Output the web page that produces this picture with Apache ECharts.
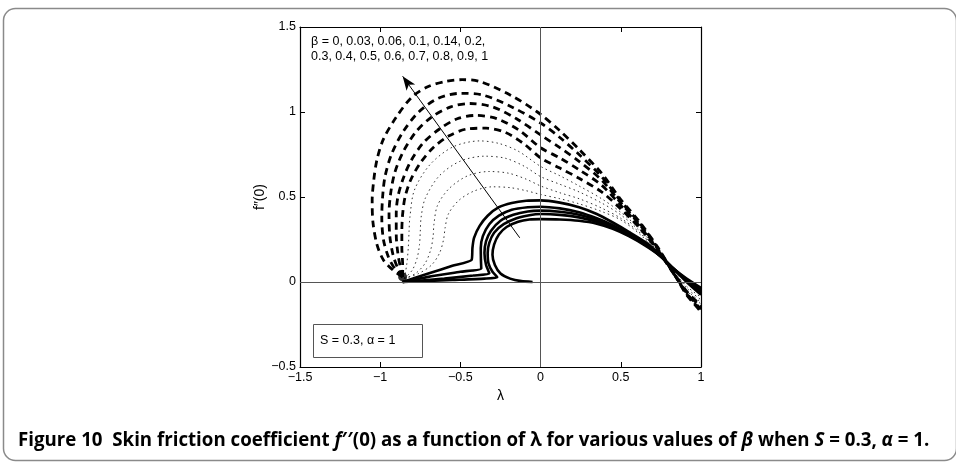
<!DOCTYPE html>
<html><head><meta charset="utf-8">
<script src="https://cdn.jsdelivr.net/npm/echarts@6/dist/echarts.min.js"></script>
<style>html,body{margin:0;padding:0;background:#fff;}#c{width:956px;height:469px;}</style>
</head><body><div id="c"></div>
<script>
// x ticks / y ticks
const xTicks = [-1.5, -1, -0.5, 0, 0.5, 1];
const yTicks = [-0.5, 0, 0.5, 1, 1.5];
const betaValues = [0, 0.03, 0.06, 0.1, 0.14, 0.2, 0.3, 0.4, 0.5, 0.6, 0.7, 0.8, 0.9, 1];

// Solid curves (beta = 0, 0.03, 0.06, 0.1, 0.14): [lambda, f''(0)]
const solid_b0 = [[-0.05,0],[-0.12,0.005],[-0.19,0.02],[-0.25,0.05],[-0.285,0.1],[-0.30,0.16],[-0.29,0.22],[-0.26,0.28],[-0.21,0.325],[-0.14,0.355],[-0.07,0.368],[0,0.37],[0.12,0.368],[0.24,0.36],[0.35,0.343],[0.45,0.313],[0.55,0.27],[0.66,0.21],[0.75,0.15],[0.815,0.09],[0.91,0.02],[1.0,-0.035]];
const solid_b003 = [[-0.86,0],[-0.55,0.012],[-0.35,0.02],[-0.27,0.028],[-0.30,0.06],[-0.325,0.11],[-0.33,0.17],[-0.32,0.23],[-0.29,0.29],[-0.23,0.34],[-0.15,0.375],[-0.07,0.393],[0,0.40],[0.12,0.395],[0.24,0.38],[0.35,0.355],[0.45,0.32],[0.55,0.275],[0.66,0.215],[0.75,0.15],[0.815,0.09],[0.91,0.015],[1.0,-0.045]];
const solid_b006 = [[-0.86,0],[-0.6,0.02],[-0.42,0.038],[-0.32,0.05],[-0.34,0.1],[-0.35,0.17],[-0.34,0.24],[-0.31,0.3],[-0.25,0.36],[-0.17,0.395],[-0.08,0.415],[0,0.42],[0.12,0.413],[0.24,0.395],[0.35,0.365],[0.45,0.327],[0.55,0.28],[0.66,0.22],[0.75,0.15],[0.815,0.09],[0.91,0.01],[1.0,-0.055]];
const solid_b01 = [[-0.86,0],[-0.7,0.03],[-0.5,0.06],[-0.37,0.08],[-0.372,0.13],[-0.373,0.2],[-0.36,0.27],[-0.32,0.34],[-0.26,0.39],[-0.18,0.425],[-0.08,0.44],[0,0.443],[0.12,0.433],[0.24,0.41],[0.35,0.375],[0.45,0.335],[0.55,0.285],[0.66,0.225],[0.75,0.15],[0.815,0.09],[0.91,0.005],[1.0,-0.065]];
const solid_b014 = [[-0.86,0],[-0.7,0.05],[-0.55,0.095],[-0.43,0.13],[-0.425,0.2],[-0.415,0.26],[-0.38,0.33],[-0.33,0.39],[-0.26,0.44],[-0.18,0.465],[-0.09,0.478],[0,0.48],[0.12,0.467],[0.24,0.44],[0.35,0.40],[0.45,0.35],[0.55,0.295],[0.66,0.23],[0.75,0.155],[0.815,0.09],[0.91,0.0],[1.0,-0.075]];

// Dotted curves (beta = 0.2, 0.3, 0.4, 0.5)
const dot_b02 = [[-0.85,0.02],[-0.76,0.05],[-0.68,0.10],[-0.63,0.17],[-0.605,0.25],[-0.595,0.32],[-0.575,0.40],[-0.51,0.48],[-0.415,0.535],[-0.30,0.56],[-0.19,0.555],[-0.09,0.537],[0,0.515],[0.12,0.49],[0.24,0.46],[0.38,0.415],[0.50,0.365],[0.62,0.28],[0.73,0.17],[0.80,0.10],[0.85,0.04],[0.91,-0.025],[1.0,-0.09]];
const dot_b03 = [[-0.85,0.02],[-0.78,0.05],[-0.72,0.11],[-0.685,0.19],[-0.67,0.27],[-0.665,0.34],[-0.643,0.45],[-0.57,0.55],[-0.454,0.625],[-0.32,0.65],[-0.20,0.64],[-0.09,0.605],[0,0.565],[0.12,0.525],[0.24,0.49],[0.38,0.435],[0.50,0.375],[0.62,0.288],[0.73,0.175],[0.80,0.10],[0.85,0.037],[0.91,-0.035],[1.0,-0.105]];
const dot_b04 = [[-0.85,0.02],[-0.80,0.07],[-0.77,0.14],[-0.755,0.22],[-0.75,0.3],[-0.745,0.38],[-0.72,0.49],[-0.633,0.623],[-0.503,0.71],[-0.35,0.74],[-0.22,0.728],[-0.10,0.68],[0,0.62],[0.12,0.575],[0.24,0.53],[0.38,0.465],[0.50,0.395],[0.62,0.298],[0.73,0.18],[0.80,0.10],[0.85,0.034],[0.91,-0.045],[1.0,-0.12]];
const dot_b05 = [[-0.85,0.02],[-0.835,0.1],[-0.825,0.2],[-0.82,0.3],[-0.815,0.38],[-0.787,0.54],[-0.69,0.69],[-0.548,0.794],[-0.38,0.83],[-0.26,0.815],[-0.14,0.77],[0,0.68],[0.12,0.625],[0.24,0.565],[0.38,0.49],[0.50,0.41],[0.62,0.31],[0.73,0.185],[0.80,0.10],[0.85,0.03],[0.91,-0.05],[1.0,-0.13]];

// Dashed curves (beta = 0.6, 0.7, 0.8, 0.9, 1)
const dash_b06 = [[-0.86,0.03],[-0.86,0.1],[-0.865,0.2],[-0.865,0.3],[-0.86,0.4],[-0.845,0.5],[-0.81,0.6],[-0.75,0.7],[-0.67,0.79],[-0.57,0.86],[-0.46,0.9],[-0.34,0.905],[-0.22,0.88],[-0.10,0.81],[0,0.73],[0.12,0.67],[0.24,0.61],[0.38,0.53],[0.50,0.43],[0.62,0.315],[0.73,0.185],[0.79,0.105],[0.85,0.025],[0.91,-0.055],[1.0,-0.14]];
const dash_b07 = [[-0.86,0.03],[-0.875,0.09],[-0.89,0.17],[-0.90,0.28],[-0.90,0.4],[-0.89,0.5],[-0.86,0.6],[-0.81,0.71],[-0.73,0.82],[-0.63,0.9],[-0.52,0.96],[-0.40,0.98],[-0.27,0.96],[-0.13,0.89],[0,0.79],[0.12,0.73],[0.24,0.66],[0.38,0.57],[0.50,0.45],[0.62,0.325],[0.73,0.19],[0.79,0.105],[0.85,0.02],[0.91,-0.06],[1.0,-0.15]];
const dash_b08 = [[-0.86,0.03],[-0.89,0.08],[-0.92,0.16],[-0.94,0.27],[-0.945,0.4],[-0.935,0.52],[-0.91,0.64],[-0.86,0.76],[-0.78,0.88],[-0.68,0.97],[-0.56,1.03],[-0.44,1.05],[-0.30,1.03],[-0.15,0.96],[0,0.865],[0.12,0.79],[0.24,0.71],[0.38,0.60],[0.50,0.465],[0.62,0.335],[0.73,0.195],[0.79,0.108],[0.85,0.02],[0.91,-0.065],[1.0,-0.16]];
const dash_b09 = [[-0.86,0.03],[-0.91,0.08],[-0.95,0.15],[-0.98,0.25],[-0.99,0.38],[-0.985,0.5],[-0.97,0.62],[-0.93,0.75],[-0.86,0.88],[-0.76,1.0],[-0.64,1.08],[-0.50,1.11],[-0.36,1.10],[-0.18,1.03],[0,0.935],[0.12,0.85],[0.24,0.75],[0.38,0.62],[0.50,0.475],[0.62,0.343],[0.73,0.2],[0.79,0.11],[0.85,0.02],[0.91,-0.07],[1.0,-0.168]];
const dash_b1 = [[-0.86,0.03],[-0.92,0.07],[-0.98,0.13],[-1.02,0.22],[-1.045,0.35],[-1.05,0.48],[-1.04,0.6],[-1.02,0.72],[-0.98,0.84],[-0.90,0.97],[-0.80,1.09],[-0.70,1.15],[-0.59,1.18],[-0.49,1.19],[-0.38,1.18],[-0.19,1.10],[-0.02,1.0],[0.12,0.89],[0.24,0.78],[0.38,0.64],[0.50,0.485],[0.62,0.35],[0.73,0.205],[0.79,0.113],[0.85,0.02],[0.91,-0.075],[1.0,-0.175]];

// Arrow (tail -> head), junction point marker
const arrowTail = [-0.13, 0.26];
const arrowHead = [-0.86, 1.21];
const junction = [[-0.86, 0.03]];

const solidCurves = [solid_b0, solid_b003, solid_b006, solid_b01, solid_b014];
const dottedCurves = [dot_b02, dot_b03, dot_b04, dot_b05];
const dashedCurves = [dash_b06, dash_b07, dash_b08, dash_b09, dash_b1];

const chart = echarts.init(document.getElementById('c'), null, {renderer: 'canvas'});
const fmt = v => (v < 0 ? '\u2212' + String(-v) : String(v));
const font = 'Liberation Sans, Arial, sans-serif';

const series = [];
solidCurves.forEach(d => series.push({type:'line', data:d, showSymbol:false, smooth:0.2, lineStyle:{color:'#000', width:2.6}, silent:true, z:3}));
dottedCurves.forEach(d => series.push({type:'line', data:d, showSymbol:false, smooth:0.3, lineStyle:{color:'#333', width:1, type:[1.5,3.2]}, silent:true, z:2}));
dashedCurves.forEach(d => series.push({type:'line', data:d, showSymbol:false, smooth:0.3, lineStyle:{color:'#000', width:2.8, type:[7,5]}, silent:true, z:2}));
series.push({type:'scatter', data:junction, symbolSize:9, itemStyle:{color:'#000'}, silent:true, z:4});
// reference lines + arrow
series.push({type:'line', data:[], silent:true,
  markLine:{silent:true, symbol:['none','none'], label:{show:false}, animation:false,
    lineStyle:{color:'#555', width:1, type:'solid'},
    data:[{xAxis:0},{yAxis:0}]}});
series.push({type:'line', data:[], silent:true,
  markLine:{silent:true, label:{show:false}, animation:false, symbolSize:[8,14],
    lineStyle:{color:'#000', width:1, type:'solid'},
    data:[[{coord:arrowTail, symbol:'none'},{coord:arrowHead, symbol:'arrow'}]]}});

chart.setOption({
  animation:false,
  backgroundColor:'#fff',
  grid:{left:300, top:27, width:401, height:340},
  xAxis:[{type:'value', min:-1.5, max:1, interval:0.5, position:'bottom',
    name:'\u03bb', nameLocation:'middle', nameGap:21, nameTextStyle:{fontFamily:font, fontSize:14, color:'#000'},
    axisLine:{onZero:false, lineStyle:{color:'#000', width:1.2}},
    axisTick:{inside:true, length:5, lineStyle:{color:'#000'}},
    axisLabel:{formatter:fmt, fontFamily:font, fontSize:12.5, color:'#000', margin:4},
    splitLine:{show:false}},
   {type:'value', min:-1.5, max:1, interval:0.5, position:'top',
    axisLine:{onZero:false, lineStyle:{color:'#000', width:1.2}},
    axisTick:{inside:true, length:5, lineStyle:{color:'#000'}},
    axisLabel:{show:false}, splitLine:{show:false}}],
  yAxis:[{type:'value', min:-0.5, max:1.5, interval:0.5, position:'left',
    name:'f\u2033(0)', nameLocation:'middle', nameGap:30, nameRotate:90, nameTextStyle:{fontFamily:font, fontSize:14, color:'#000'},
    axisLine:{onZero:false, lineStyle:{color:'#000', width:1.2}},
    axisTick:{inside:true, length:5, lineStyle:{color:'#000'}},
    axisLabel:{formatter:fmt, fontFamily:font, fontSize:12.5, color:'#000', margin:4},
    splitLine:{show:false}},
   {type:'value', min:-0.5, max:1.5, interval:0.5, position:'right',
    axisLine:{onZero:false, lineStyle:{color:'#000', width:1.2}},
    axisTick:{inside:true, length:5, lineStyle:{color:'#000'}},
    axisLabel:{show:false}, splitLine:{show:false}}],
  series:series,
  graphic:[
    {type:'rect', left:1, top:6, shape:{width:953, height:452, r:12}, style:{fill:'none', stroke:'#8a8a8a', lineWidth:1.5}, silent:true, z:-10},
    {type:'text', left:311, top:34, style:{text:'\u03b2 = 0, 0.03, 0.06, 0.1, 0.14, 0.2,\n0.3, 0.4, 0.5, 0.6, 0.7, 0.8, 0.9, 1', font:'12.5px '+font, fill:'#000', lineHeight:15}, z:20},
    {type:'rect', left:313, top:324, shape:{width:109, height:33}, style:{fill:'#fff', stroke:'#555', lineWidth:1}, z:20},
    {type:'text', left:320, top:334, style:{text:'S = 0.3, \u03b1 = 1', font:'12.5px '+font, fill:'#000'}, z:21},
    {type:'text', left:18, top:431, style:{
      text:'{b|Figure 10  Skin friction coefficient }{i|f}{b|\u2032\u2032(0) as a function of \u03bb for various values of }{i|\u03b2}{b| when }{i|S}{b| = 0.3, }{i|\u03b1}{b| = 1.}',
      rich:{b:{fontFamily:'Open Sans', fontWeight:'bold', fontSize:18.7, color:'#231f20'},
            i:{fontFamily:'Open Sans', fontWeight:'bold', fontStyle:'italic', fontSize:18.7, color:'#231f20'}}}, z:20}
  ]
});
</script></body></html>
